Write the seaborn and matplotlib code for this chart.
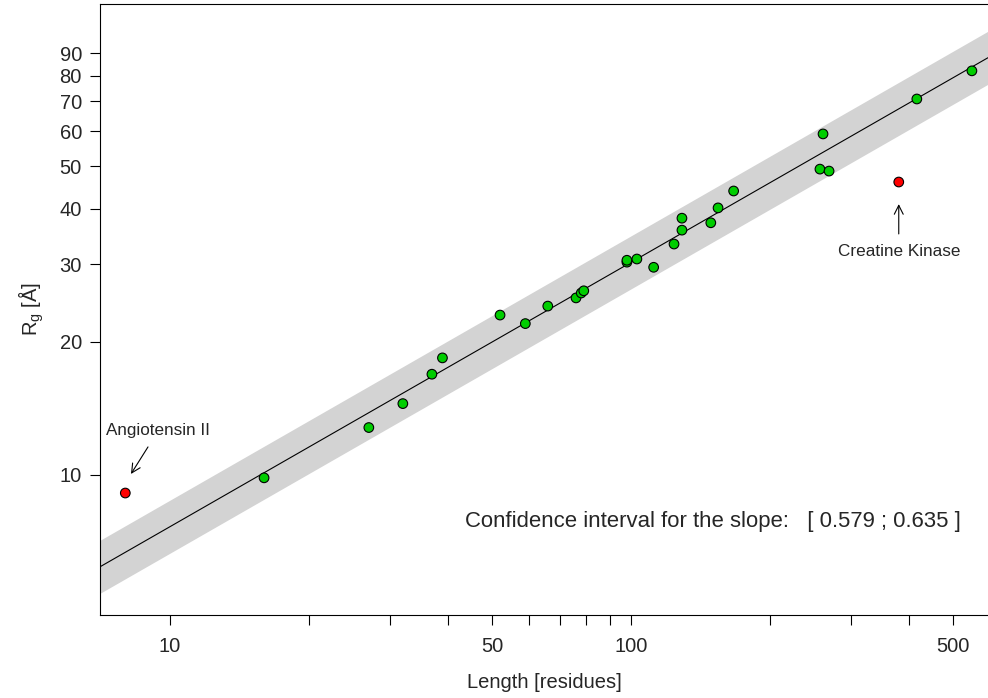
import numpy as np
import pandas as pd
import matplotlib
matplotlib.use("Agg")
import matplotlib.pyplot as plt
import seaborn as sns

# residue counts and radii of gyration
length = [8, 16, 27, 32, 37, 39, 52, 59, 66, 76, 78, 79, 98, 98, 103, 112,
          124, 129, 129, 149, 154.5, 167, 257, 261, 269, 381, 417, 549]
rg = [9.1, 9.85, 12.8, 14.5, 16.9, 18.4, 23.0, 22.0, 24.1, 25.15, 25.8, 26.1,
      30.3, 30.6, 30.8, 29.5, 33.3, 35.8, 38.1, 37.2, 40.2, 43.9, 49.2, 59.1,
      48.7, 46.0, 70.9, 82.1]
kind = ["outlier"] + ["fit"] * 24 + ["outlier"] + ["fit"] * 2

# power-law fit Rg = R0 * N^nu, band half-width in log10 units
r0 = 1.927
nu = 0.598
band_log = 0.060
ci_text = "Confidence interval for the slope:   [ 0.579 ; 0.635 ]"

x_ticks = [10, 20, 30, 40, 50, 60, 70, 80, 90, 100, 200, 300, 400, 500]
x_labeled = [10, 50, 100, 500]
y_ticks = [10, 20, 30, 40, 50, 60, 70, 80, 90]

xlim = (7.05, 595)
ylim = (4.82, 116.3)

df = pd.DataFrame({"length": length, "rg": rg, "kind": kind})

sns.set_style("ticks")
plt.rcParams["font.family"] = ["Liberation Sans", "DejaVu Sans"]
plt.rcParams["mathtext.default"] = "regular"

fig = plt.figure(figsize=(9.88, 6.98), dpi=100)
ax = fig.add_axes([100 / 988, 1 - 615 / 698, 888 / 988, 611 / 698])
ax.set_xscale("log")
ax.set_yscale("log")
ax.set_xlim(*xlim)
ax.set_ylim(*ylim)

# fitted line and band
grid = np.geomspace(xlim[0], xlim[1], 200)
fit = r0 * grid ** nu
ax.fill_between(grid, fit / 10 ** band_log, fit * 10 ** band_log,
                color="#d3d3d3", lw=0, zorder=1)
sns.lineplot(x=grid, y=fit, color="black", lw=0.8, ax=ax, zorder=2)

sns.scatterplot(data=df, x="length", y="rg", hue="kind",
                palette={"fit": "#00cd00", "outlier": "#ff0000"},
                edgecolor="black", linewidth=0.8, s=48, legend=False,
                ax=ax, zorder=3)

# annotations
arrow = dict(arrowstyle="->", lw=0.8, color="black", shrinkA=0, shrinkB=0,
             mutation_scale=16)
ax.annotate("", xy=(8.23, 10.05), xytext=(8.96, 11.57), arrowprops=arrow)
ax.text(9.42, 12.58, "Angiotensin II", ha="center", va="center", fontsize=12.3)
ax.annotate("", xy=(381, 41.0), xytext=(381, 35.1), arrowprops=arrow)
ax.text(381, 31.96, "Creatine Kinase", ha="center", va="center", fontsize=12.3)
ax.text(150.5, 7.83, ci_text, ha="center", va="center", fontsize=15.9)

ax.set_xticks(x_ticks)
ax.set_xticklabels([str(t) if t in x_labeled else "" for t in x_ticks])
ax.set_yticks(y_ticks)
ax.set_yticklabels([str(t) for t in y_ticks])
ax.minorticks_off()
ax.tick_params(axis="both", length=7, width=0.8, color="black",
               labelsize=14.5)
ax.tick_params(axis="x", pad=9)
ax.tick_params(axis="y", pad=6)

ax.set_xlabel("Length [residues]", fontsize=14.5, labelpad=12)
ax.set_ylabel(r"R$_g$ [Å]", fontsize=14.5, labelpad=10)

for side in ["left", "bottom", "top"]:
    ax.spines[side].set_linewidth(0.8)
    ax.spines[side].set_color("black")
ax.spines["right"].set_visible(False)

fig.savefig("out.png", dpi=100)
